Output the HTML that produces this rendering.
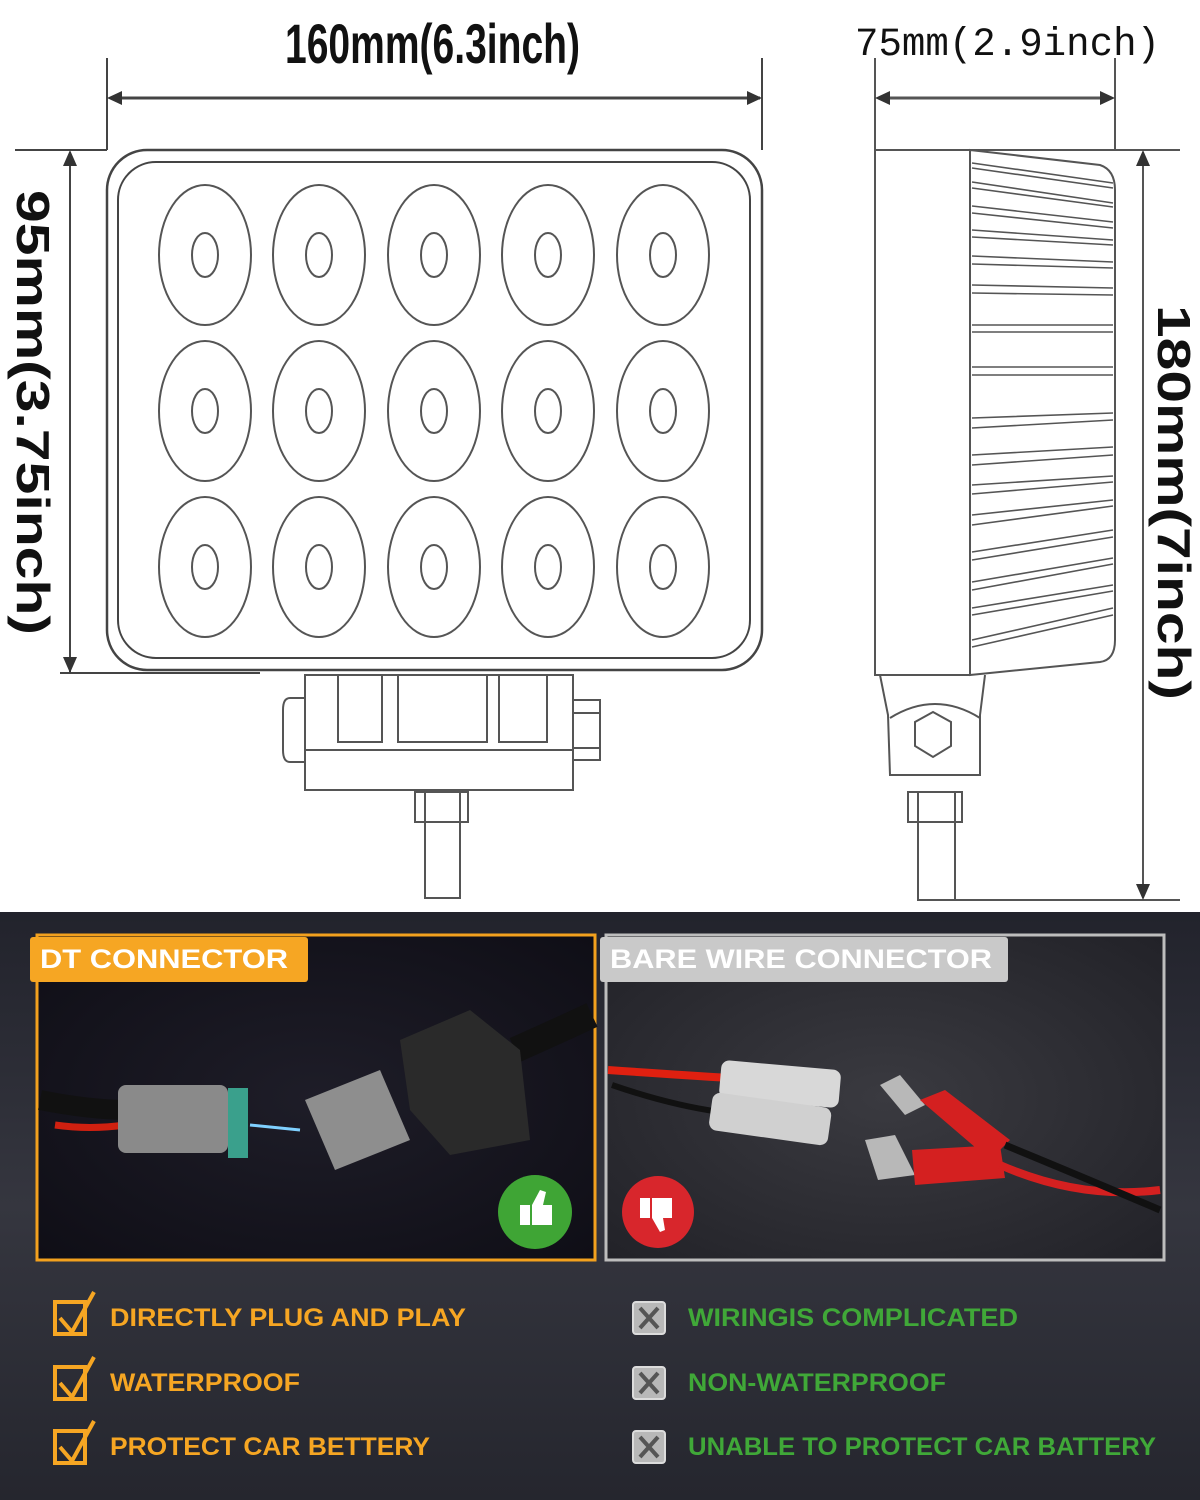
<!DOCTYPE html>
<html><head><meta charset="utf-8"><style>
html,body{margin:0;padding:0;background:#fff}
svg{display:block}
</style></head><body>
<svg width="1200" height="1500" viewBox="0 0 1200 1500" xmlns="http://www.w3.org/2000/svg">
<defs>
<linearGradient id="bg" x1="0" y1="0" x2="0" y2="1">
<stop offset="0" stop-color="#22232c"/><stop offset="0.5" stop-color="#35363f"/><stop offset="1" stop-color="#25262e"/>
</linearGradient>
<radialGradient id="lp" cx="0.5" cy="0.5" r="0.7"><stop offset="0" stop-color="#1e1d28"/><stop offset="1" stop-color="#0f0e16"/></radialGradient>
<radialGradient id="rp" cx="0.5" cy="0.5" r="0.7"><stop offset="0" stop-color="#3a3a40"/><stop offset="1" stop-color="#222228"/></radialGradient>
</defs>
<rect width="1200" height="912" fill="#fff"/>
<g fill="none" stroke="#444" stroke-width="2">
<line x1="107" y1="58" x2="107" y2="150"/>
<line x1="762" y1="58" x2="762" y2="150"/>
<line x1="110" y1="98" x2="760" y2="98" stroke-width="3"/>
<line x1="15" y1="150" x2="107" y2="150"/>
<line x1="60" y1="673" x2="260" y2="673"/>
<line x1="70" y1="152" x2="70" y2="672"/>
<rect x="107" y="150" width="655" height="520" rx="40" stroke-width="2.5"/>
<rect x="118" y="162" width="632" height="496" rx="38"/>
</g>
<g fill="#333">
<polygon points="107,98 122,91 122,105"/><polygon points="762,98 747,91 747,105"/>
<polygon points="70,150 63,166 77,166"/><polygon points="70,673 63,657 77,657"/>
</g>
<g fill="none" stroke="#555" stroke-width="2">
<g id="row">
<ellipse cx="205" cy="255" rx="46" ry="70"/><ellipse cx="205" cy="255" rx="13" ry="22"/>
<ellipse cx="319" cy="255" rx="46" ry="70"/><ellipse cx="319" cy="255" rx="13" ry="22"/>
<ellipse cx="434" cy="255" rx="46" ry="70"/><ellipse cx="434" cy="255" rx="13" ry="22"/>
<ellipse cx="548" cy="255" rx="46" ry="70"/><ellipse cx="548" cy="255" rx="13" ry="22"/>
<ellipse cx="663" cy="255" rx="46" ry="70"/><ellipse cx="663" cy="255" rx="13" ry="22"/>
</g>
<use href="#row" y="156"/>
<use href="#row" y="312"/>
<rect x="305" y="675" width="268" height="115"/>
<rect x="338" y="675" width="44" height="67"/>
<rect x="398" y="675" width="89" height="67"/>
<rect x="499" y="675" width="48" height="67"/>
<line x1="305" y1="750" x2="573" y2="750"/>
<path d="M305 698 H290 Q283 698 283 710 V750 Q283 762 290 762 H305"/>
<rect x="573" y="700" width="27" height="60"/>
<line x1="573" y1="713" x2="600" y2="713"/><line x1="573" y1="748" x2="600" y2="748"/>
<rect x="415" y="792" width="53" height="30"/>
<rect x="425" y="792" width="35" height="106"/>
<line x1="875" y1="58" x2="875" y2="150"/>
<line x1="1115" y1="58" x2="1115" y2="150"/>
<line x1="878" y1="98" x2="1112" y2="98" stroke-width="3"/>
<line x1="875" y1="150" x2="1180" y2="150"/>
<line x1="920" y1="900" x2="1180" y2="900"/>
<line x1="1143" y1="152" x2="1143" y2="898"/>
<rect x="875" y="150" width="95" height="525"/>
<path d="M970 150 L1100 165 Q1115 170 1115 190 V640 Q1115 660 1100 662 L970 675 Z"/>
<g stroke-width="1.6">
<path d="M972 163 L1113 183 M972 168 L1113 188 M972 182 L1113 203 M972 188 L1113 207 M972 206 L1113 222 M972 213 L1113 228 M972 230 L1113 240 M972 237 L1113 245 M972 256 L1113 262 M972 264 L1113 268 M972 285 L1113 288 M972 293 L1113 295 M972 325 L1113 325 M972 332 L1113 332 M972 367 L1113 367 M972 375 L1113 375 M972 418 L1113 413 M972 428 L1113 420 M972 455 L1113 447 M972 465 L1113 455 M972 485 L1113 476 M972 494 L1113 482 M972 515 L1113 500 M972 525 L1113 506 M972 552 L1113 530 M972 560 L1113 537 M972 582 L1113 558 M972 590 L1113 564 M972 608 L1113 585 M972 615 L1113 591 M972 640 L1113 608 M972 647 L1113 615"/>
</g>
<path d="M880 675 L888 715 L890 775 L980 775 L980 715 L985 675"/>
<path d="M890 718 Q935 690 980 718"/>
<polygon points="933,712 951,722 951,746 933,757 915,746 915,722"/>
<rect x="908" y="792" width="54" height="30"/>
<rect x="918" y="792" width="37" height="108"/>
</g>
<g fill="#333">
<polygon points="875,98 890,91 890,105"/><polygon points="1115,98 1100,91 1100,105"/>
<polygon points="1143,150 1136,166 1150,166"/><polygon points="1143,900 1136,884 1150,884"/>
</g>
<text x="285" y="63" font-family="Liberation Sans, sans-serif" font-weight="bold" font-size="56" textLength="295" lengthAdjust="spacingAndGlyphs" fill="#111">160mm(6.3inch)</text>
<text x="855" y="55" font-family="Liberation Mono, monospace" font-size="40" textLength="305" lengthAdjust="spacingAndGlyphs" fill="#111">75mm(2.9inch)</text>
<text transform="translate(17,190) rotate(90)" font-family="Liberation Sans, sans-serif" font-weight="bold" font-size="46" textLength="445" lengthAdjust="spacingAndGlyphs" fill="#111">95mm(3.75inch)</text>
<text transform="translate(1158,305) rotate(90)" font-family="Liberation Sans, sans-serif" font-weight="bold" font-size="46" textLength="395" lengthAdjust="spacingAndGlyphs" fill="#111">180mm(7inch)</text>

<rect y="912" width="1200" height="588" fill="url(#bg)"/>
<rect x="37" y="935" width="558" height="325" fill="url(#lp)" stroke="#f3a11e" stroke-width="3"/>
<rect x="606" y="935" width="558" height="325" fill="url(#rp)" stroke="#bdbdbd" stroke-width="3"/>
<rect x="30" y="937" width="278" height="45" fill="#f6a623" rx="3"/>
<rect x="600" y="937" width="408" height="45" fill="#c9c9c9" rx="3"/>
<text x="40" y="968" font-family="Liberation Sans, sans-serif" font-weight="bold" font-size="27" fill="#fff" textLength="248" lengthAdjust="spacingAndGlyphs">DT CONNECTOR</text>
<text x="610" y="968" font-family="Liberation Sans, sans-serif" font-weight="bold" font-size="27" fill="#fff" textLength="382" lengthAdjust="spacingAndGlyphs">BARE WIRE CONNECTOR</text>
<path d="M40 1100 Q90 1110 130 1110" stroke="#111" stroke-width="20" fill="none"/>
<path d="M55 1125 Q90 1130 125 1125" stroke="#d02010" stroke-width="7" fill="none"/>
<path d="M515 1050 Q560 1030 592 1015" stroke="#111" stroke-width="26" fill="none"/>
<rect x="118" y="1085" width="110" height="68" rx="8" fill="#8a8a8a"/>
<rect x="228" y="1088" width="20" height="70" fill="#3aa08c"/>
<polygon points="305,1100 380,1070 410,1140 335,1170" fill="#8e8e8e"/>
<polygon points="400,1040 470,1010 520,1050 530,1140 450,1155 410,1110" fill="#2a2a2a"/>
<path d="M250 1125 L300 1130" stroke="#7fd0ff" stroke-width="3"/>
<path d="M608 1070 Q680 1075 730 1078" stroke="#e02010" stroke-width="8" fill="none"/>
<path d="M612 1085 Q670 1105 720 1112" stroke="#111" stroke-width="6" fill="none"/>
<rect x="720" y="1065" width="120" height="38" rx="8" fill="#d8d8d8" transform="rotate(5 780 1084)"/>
<rect x="710" y="1100" width="120" height="38" rx="8" fill="#d0d0d0" transform="rotate(8 770 1120)"/>
<polygon points="880,1085 900,1075 925,1105 905,1115" fill="#b8b8b8"/>
<polygon points="920,1100 945,1090 1010,1140 990,1160" fill="#d42020"/>
<polygon points="865,1140 895,1135 915,1175 878,1180" fill="#b8b8b8"/>
<polygon points="912,1150 1000,1145 1005,1178 915,1185" fill="#d42020"/>
<path d="M1000 1165 Q1080 1200 1160 1190" stroke="#d42020" stroke-width="8" fill="none"/>
<path d="M1005 1145 Q1090 1180 1160 1210" stroke="#111" stroke-width="7" fill="none"/>
<circle cx="535" cy="1212" r="37" fill="#3fa535"/>
<rect x="520" y="1205" width="10" height="20" fill="#fff"/><path d="M532 1225 V1205 L540 1190 L546 1192 L543 1205 H552 V1225 Z" fill="#fff"/>
<circle cx="658" cy="1212" r="36" fill="#d8262c"/>
<rect x="640" y="1198" width="10" height="20" fill="#fff"/><path d="M652 1198 V1218 L660 1232 L665 1230 L663 1218 H672 V1198 Z" fill="#fff"/>
<g font-family="Liberation Sans, sans-serif" font-weight="bold" font-size="25" lengthAdjust="spacingAndGlyphs">
<g fill="#f6a623">
<text x="110" y="1326" textLength="356" lengthAdjust="spacingAndGlyphs">DIRECTLY PLUG AND PLAY</text>
<text x="110" y="1391" textLength="190" lengthAdjust="spacingAndGlyphs">WATERPROOF</text>
<text x="110" y="1455" textLength="320" lengthAdjust="spacingAndGlyphs">PROTECT CAR BETTERY</text>
</g>
<g fill="#40a838">
<text x="688" y="1326" textLength="330" lengthAdjust="spacingAndGlyphs">WIRINGIS COMPLICATED</text>
<text x="688" y="1391" textLength="258" lengthAdjust="spacingAndGlyphs">NON-WATERPROOF</text>
<text x="688" y="1455" textLength="468" lengthAdjust="spacingAndGlyphs">UNABLE TO PROTECT CAR BATTERY</text>
</g>
</g>
<g fill="none" stroke="#f6a623" stroke-width="4">
<rect x="55" y="1302" width="30" height="32"/><path d="M60 1318 L72 1332 L94 1292"/>
<rect x="55" y="1367" width="30" height="32"/><path d="M60 1383 L72 1397 L94 1357"/>
<rect x="55" y="1431" width="30" height="32"/><path d="M60 1447 L72 1461 L94 1421"/>
</g>
<g fill="#b8b8b8" stroke="#dcdcdc" stroke-width="2">
<rect x="633" y="1302" width="32" height="32" rx="3"/>
<rect x="633" y="1367" width="32" height="32" rx="3"/>
<rect x="633" y="1431" width="32" height="32" rx="3"/>
</g>
<g stroke="#555" stroke-width="4">
<path d="M640 1308 L658 1328 M658 1308 L640 1328"/>
<path d="M640 1373 L658 1393 M658 1373 L640 1393"/>
<path d="M640 1437 L658 1457 M658 1437 L640 1457"/>
</g>
</svg>
</body></html>
